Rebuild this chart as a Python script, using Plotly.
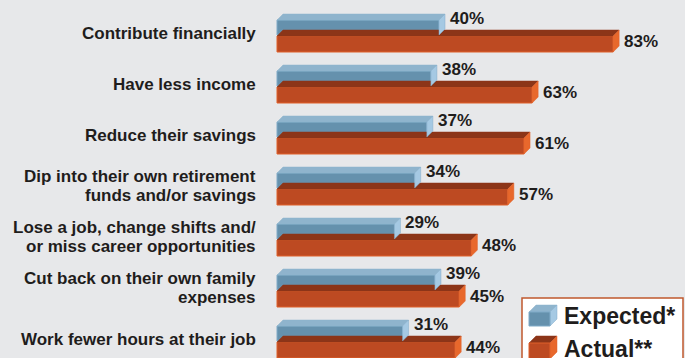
import plotly.graph_objects as go

# Survey responses: what caregivers expected vs. what actually happened
categories = [
    ["Contribute financially"],
    ["Have less income"],
    ["Reduce their savings"],
    ["Dip into their own retirement", "funds and/or savings"],
    ["Lose a job, change shifts and/", "or miss career opportunities"],
    ["Cut back on their own family", "expenses"],
    ["Work fewer hours at their job"],
]
expected = [40, 38, 37, 34, 29, 39, 31]
actual = [83, 63, 61, 57, 48, 45, 44]
series_names = ["Expected*", "Actual**"]

W, H = 685, 358
BG = "#e7e8ea"
FONT = "Liberation Sans, Arial, Helvetica, sans-serif"
TXT = "#1f1d1c"

# axis scaling (pixels per unit)
X0_PX = 277.0       # pixel where the value axis starts
PX_PER_PCT = 4.05
ROW0_PX = 33.0      # centre of the first row
ROW_PX = 51.0       # distance between rows

x_range = [-X0_PX / PX_PER_PCT, (W - X0_PX) / PX_PER_PCT]
y_range = [(H - ROW0_PX) / ROW_PX, -ROW0_PX / ROW_PX]

# 3-D depth of each bar
DEPTH_PX = 6.0
dx = DEPTH_PX / PX_PER_PCT
dy = DEPTH_PX / ROW_PX

styles = {
    "Expected*": dict(offset=-13 / ROW_PX, width=15 / ROW_PX,
                      front="#6591ad", edge="#80abc8", top="#8fb4cd", side="#a5c9e3"),
    "Actual**": dict(offset=3 / ROW_PX, width=16 / ROW_PX,
                     front="#bd4a22", edge="#e0602a", top="#8c3518", side="#e8682c"),
}

fig = go.Figure()
rows = list(range(len(categories)))


def faces(values, st):
    tx, ty, sx, sy = [], [], [], []
    for i, v in zip(rows, values):
        t = i + st["offset"]
        b = t + st["width"]
        tx += [0, v, v + dx, dx, 0, None]
        ty += [t, t, t - dy, t - dy, t, None]
        sx += [v, v + dx, v + dx, v, v, None]
        sy += [t, t - dy, b - dy, b, t, None]
    return tx, ty, sx, sy


# draw the rear series (Actual) first so the Expected bars sit on top
for name, values in [("Actual**", actual), ("Expected*", expected)]:
    st = styles[name]
    tx, ty, sx, sy = faces(values, st)
    fig.add_trace(go.Scatter(x=tx, y=ty, mode="lines", fill="toself",
                             fillcolor=st["top"], line=dict(color=st["top"], width=0.5),
                             hoverinfo="skip", showlegend=False))
    fig.add_trace(go.Scatter(x=sx, y=sy, mode="lines", fill="toself",
                             fillcolor=st["side"], line=dict(color=st["edge"], width=0.5),
                             hoverinfo="skip", showlegend=False))
    fig.add_trace(go.Bar(name=name, y=rows, x=values, orientation="h",
                         offset=st["offset"], width=st["width"],
                         marker=dict(color=st["front"], line=dict(color=st["edge"], width=1)),
                         showlegend=False))

LABEL_SIZE = 17
annotations = []
# value labels
for i, (e, a) in enumerate(zip(expected, actual)):
    annotations.append(dict(x=e, y=i, text=f"<b>{e}%</b>", xanchor="left", yanchor="middle",
                            xshift=DEPTH_PX + 3, yshift=15, showarrow=False,
                            font=dict(family=FONT, size=LABEL_SIZE, color=TXT)))
    annotations.append(dict(x=a, y=i, text=f"<b>{a}%</b>", xanchor="left", yanchor="middle",
                            xshift=DEPTH_PX + 3, yshift=-8, showarrow=False,
                            font=dict(family=FONT, size=LABEL_SIZE, color=TXT)))

# category labels (tight line spacing for two-line labels)
for i, lines in enumerate(categories):
    n = len(lines)
    for k, line in enumerate(lines):
        shift = (n - 1) / 2 * 19 - k * 19
        annotations.append(dict(x=0, y=i, text=f"<b>{line}</b>", xanchor="right",
                                yanchor="middle", xshift=-19, yshift=shift, showarrow=False,
                                font=dict(family=FONT, size=LABEL_SIZE, color=TXT)))


def px(x):
    return x / W


def py(y):
    return 1 - y / H


shapes = []
# legend box
shapes.append(dict(type="rect", xref="paper", yref="paper",
                   x0=px(522), x1=px(683), y0=py(375), y1=py(298),
                   fillcolor="#ffffff", line=dict(color="#c0582e", width=1.5), layer="above"))


def cube(x0, y0, w, h, d, st):
    out = []
    # top face
    out.append(dict(type="path", xref="paper", yref="paper", layer="above",
                    path=f"M{px(x0)},{py(y0)} L{px(x0 + w)},{py(y0)} L{px(x0 + w + d)},{py(y0 - d)} "
                         f"L{px(x0 + d)},{py(y0 - d)} Z",
                    fillcolor=st["top"], line=dict(color=st["top"], width=0.5)))
    # side face
    out.append(dict(type="path", xref="paper", yref="paper", layer="above",
                    path=f"M{px(x0 + w)},{py(y0)} L{px(x0 + w + d)},{py(y0 - d)} "
                         f"L{px(x0 + w + d)},{py(y0 + h - d)} L{px(x0 + w)},{py(y0 + h)} Z",
                    fillcolor=st["side"], line=dict(color=st["edge"], width=0.5)))
    # front face
    out.append(dict(type="rect", xref="paper", yref="paper", layer="above",
                    x0=px(x0), x1=px(x0 + w), y0=py(y0 + h), y1=py(y0),
                    fillcolor=st["front"], line=dict(color=st["edge"], width=1)))
    return out


shapes += cube(529, 312, 21, 14, 7, styles["Expected*"])
shapes += cube(529, 343, 21, 16, 7, styles["Actual**"])

LEG_SIZE = 23
annotations.append(dict(xref="paper", yref="paper", x=px(562), y=py(316),
                        text=f"<b>{series_names[0]}</b>", xanchor="left", yanchor="middle",
                        showarrow=False, font=dict(family=FONT, size=LEG_SIZE, color=TXT)))
annotations.append(dict(xref="paper", yref="paper", x=px(562), y=py(349),
                        text=f"<b>{series_names[1]}</b>", xanchor="left", yanchor="middle",
                        showarrow=False, font=dict(family=FONT, size=LEG_SIZE, color=TXT)))

fig.update_layout(
    width=W, height=H,
    margin=dict(l=0, r=0, t=0, b=0),
    paper_bgcolor=BG, plot_bgcolor=BG,
    barmode="overlay",
    xaxis=dict(range=x_range, visible=False, fixedrange=True),
    yaxis=dict(range=y_range, visible=False, fixedrange=True),
    annotations=annotations,
    shapes=shapes,
    showlegend=False,
)

fig.write_html("out.html")
